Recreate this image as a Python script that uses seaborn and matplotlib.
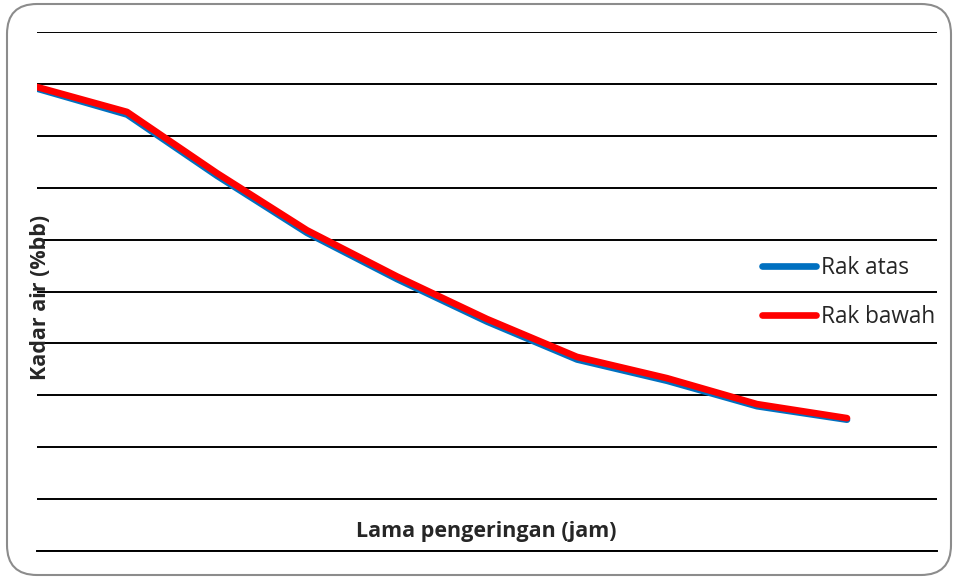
import matplotlib
matplotlib.use('Agg')
import matplotlib.pyplot as plt
from matplotlib.patches import FancyBboxPatch
import pandas as pd
import seaborn as sns

# drying time (hours) and moisture content (%bb)
jam = [0, 1, 2, 3, 4, 5, 6, 7, 8, 9]
rak_atas = [89.1, 84.1, 72.3, 61.3, 52.4, 44.2, 36.9, 32.8, 27.9, 25.3]
rak_bawah = [89.4, 84.6, 72.8, 61.8, 52.9, 44.7, 37.4, 33.3, 28.3, 25.6]
series = ['Rak atas', 'Rak bawah']
colors = ['#0070C0', '#FF0000']


def main():
  sns.set_style('white')
  plt.rcParams['font.family'] = ['Open Sans', 'DejaVu Sans']

  df = pd.DataFrame({
    'jam': jam * 2,
    'kadar': rak_atas + rak_bawah,
    'rak': [series[0]] * len(jam) + [series[1]] * len(jam),
  })

  fig = plt.figure(figsize=(9.55, 5.77), dpi=100)
  ax = fig.add_axes([37 / 955, 1 - 551 / 577, 900 / 955, 519 / 577])

  sns.lineplot(data=df, x='jam', y='kadar', hue='rak', palette=colors,
               linewidth=4.8, ax=ax, solid_capstyle='round',
               solid_joinstyle='round')

  ax.set_xlim(0, 10)
  ax.set_ylim(0, 100)
  ax.set_yticks(range(0, 101, 10))
  ax.set_xticks([])
  ax.tick_params(left=False, bottom=False, labelleft=False, labelbottom=False)
  ax.grid(axis='y', color='black', linewidth=1.4)
  ax.grid(axis='x', visible=False)
  for side in ['left', 'right', 'top']:
    ax.spines[side].set_visible(False)
  ax.spines['bottom'].set_color('black')
  ax.spines['bottom'].set_linewidth(1.4)

  ax.set_xlabel('Lama pengeringan (jam)', fontsize=15.5, fontweight='bold',
                va='center')
  ax.xaxis.set_label_coords(0.499, 0.037)
  ax.set_ylabel('Kadar air (%bb)', fontsize=15.5, fontweight='bold',
                va='center')
  ax.yaxis.set_label_coords(0.0035, 0.489)

  handles, labels = ax.get_legend_handles_labels()
  ax.legend(handles, labels, loc='center left', bbox_to_anchor=(0.8056, 0.498),
            frameon=False, fontsize=16.3, handlelength=2.4, handletextpad=0.22,
            labelspacing=1.13, borderpad=0, borderaxespad=0)

  border = FancyBboxPatch((0.07, 0.02), 9.44, 5.71,
                          boxstyle='round,pad=0,rounding_size=0.3',
                          transform=fig.dpi_scale_trans, facecolor='none',
                          edgecolor='#8c8c8c', linewidth=1.5)
  fig.patches.append(border)

  fig.savefig('out.png', dpi=100)


if __name__ == '__main__':
  main()
